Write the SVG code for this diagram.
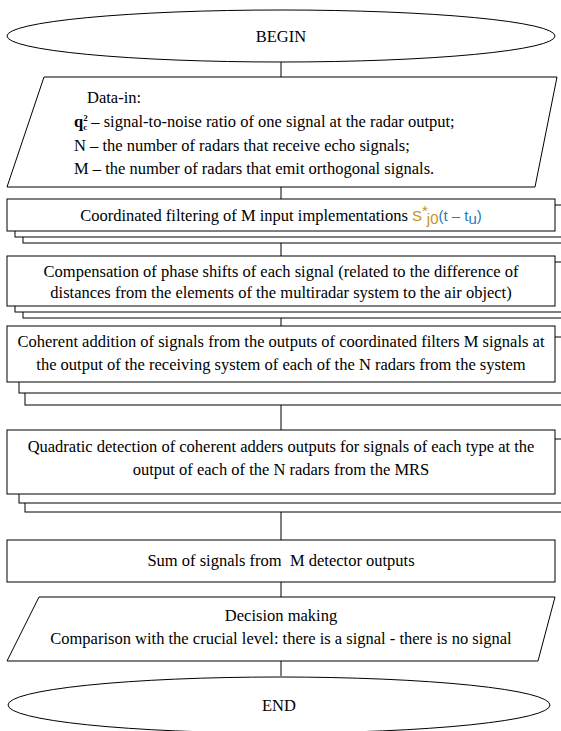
<svg xmlns="http://www.w3.org/2000/svg" width="561" height="731" viewBox="0 0 561 731">
<style>
.s{fill:#fff;stroke:#000;stroke-width:1}
.sh{fill:#fff;stroke:#000;stroke-width:1}
.t{font-family:"Liberation Serif","Times New Roman",serif;font-size:16.5px;fill:#000}
.c{text-anchor:middle}
.ln{stroke:#000;stroke-width:1;fill:none}
.f{font-family:"Liberation Sans",Arial,sans-serif;font-size:15px}
</style>
<rect width="561" height="731" fill="#fff"/>
<g id="connectors">
<line class="ln" x1="281" y1="62" x2="281" y2="77"/>
<line class="ln" x1="281" y1="187" x2="281" y2="199"/>
<line class="ln" x1="281" y1="243" x2="281" y2="256"/>
<line class="ln" x1="281" y1="318" x2="281" y2="326"/>
<line class="ln" x1="281" y1="405" x2="281" y2="430"/>
<line class="ln" x1="281" y1="512" x2="281" y2="540"/>
<line class="ln" x1="281" y1="582" x2="281" y2="597"/>
<line class="ln" x1="281" y1="661" x2="281" y2="676"/>
</g>
<g id="begin">
<ellipse class="s" cx="281" cy="36" rx="274" ry="26"/>
<text class="t c" x="281" y="42">BEGIN</text>
</g>
<g id="data-in">
<polygon class="s" points="44,77 557,77 535,187 7,187"/>
<text class="t" x="87" y="103">Data-in:</text>
<text class="t" x="74" y="127"><tspan font-weight="bold">q</tspan><tspan font-size="9" font-weight="bold" dy="-6">2</tspan><tspan font-size="9" font-weight="bold" dx="-4.5" dy="9">c</tspan><tspan dy="-3"> – signal-to-noise ratio of one signal at the radar output;</tspan></text>
<text class="t" x="74" y="151">N – the number of radars that receive echo signals;</text>
<text class="t" x="74" y="174">M – the number of radars that emit orthogonal signals.</text>
</g>
<g id="filtering">
<rect class="sh" x="23" y="211" width="548" height="32"/>
<rect class="sh" x="15" y="205" width="548" height="32"/>
<rect class="s" x="7" y="199" width="548" height="32"/>
<text class="t c" x="281" y="221">Coordinated filtering of M input implementations <tspan class="f" fill="#c8901a">S</tspan><tspan class="f" font-size="9" fill="#c8901a" dy="-5">*</tspan><tspan class="f" font-size="9" fill="#c8901a" dx="-1" dy="8">j0</tspan><tspan class="f" fill="#2a7ab8" dy="-3">(t – t</tspan><tspan class="f" font-size="9" fill="#2a7ab8" dy="3">u</tspan><tspan class="f" fill="#2a7ab8" dy="-3">)</tspan></text>
</g>
<g id="compensation">
<rect class="sh" x="23" y="268" width="548" height="50"/>
<rect class="sh" x="15" y="262" width="548" height="50"/>
<rect class="s" x="7" y="256" width="548" height="50"/>
<text class="t c" x="281" y="277">Compensation of phase shifts of each signal (related to the difference of</text>
<text class="t c" x="281" y="298">distances from the elements of the multiradar system to the air object)</text>
</g>
<g id="coherent">
<rect class="sh" x="25" y="349" width="548" height="56"/>
<rect class="sh" x="19" y="337" width="548" height="56"/>
<rect class="s" x="7" y="326" width="548" height="56"/>
<text class="t c" x="281" y="347">Coherent addition of signals from the outputs of coordinated filters M signals at</text>
<text class="t c" x="281" y="370">the output of the receiving system of each of the N radars from the system</text>
</g>
<g id="quadratic">
<rect class="sh" x="25" y="448" width="548" height="64"/>
<rect class="sh" x="19" y="439" width="548" height="64"/>
<rect class="s" x="7" y="430" width="548" height="64"/>
<text class="t c" x="281" y="452">Quadratic detection of coherent adders outputs for signals of each type at the</text>
<text class="t c" x="281" y="475">output of each of the N radars from the MRS</text>
</g>
<g id="sum">
<rect class="s" x="7" y="540" width="548" height="42"/>
<text class="t c" x="281" y="566" style="white-space:pre">Sum of signals from  M detector outputs</text>
</g>
<g id="decision">
<polygon class="s" points="39,597 555,597 538,661 7,661"/>
<text class="t c" x="281" y="621">Decision making</text>
<text class="t c" x="281" y="644">Comparison with the crucial level: there is a signal - there is no signal</text>
</g>
<g id="end">
<ellipse class="s" cx="279" cy="705" rx="271" ry="28"/>
<text class="t c" x="279" y="711">END</text>
</g>
</svg>
